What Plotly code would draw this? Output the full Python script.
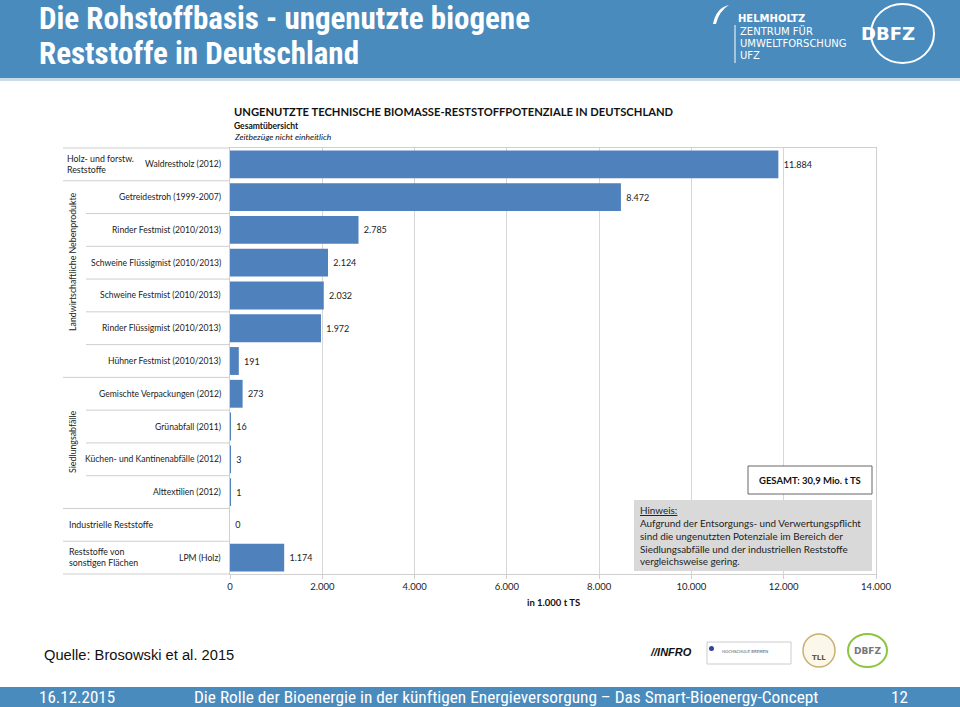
import plotly.graph_objects as go

# ---------------- data ----------------
categories = [
    "Waldrestholz (2012)",
    "Getreidestroh (1999-2007)",
    "Rinder Festmist (2010/2013)",
    "Schweine Flüssigmist (2010/2013)",
    "Schweine Festmist (2010/2013)",
    "Rinder Flüssigmist (2010/2013)",
    "Hühner Festmist (2010/2013)",
    "Gemischte Verpackungen (2012)",
    "Grünabfall (2011)",
    "Küchen- und Kantinenabfälle (2012)",
    "Alttextilien (2012)",
    "Industrielle Reststoffe",
    "LPM (Holz)",
]
row_labels = [
    "Waldrestholz (2012)",
    "Getreidestroh (1999-2007)",
    "Rinder Festmist (2010/2013)",
    "Schweine Flüssigmist (2010/2013)",
    "Schweine Festmist (2010/2013)",
    "Rinder Flüssigmist (2010/2013)",
    "Hühner Festmist (2010/2013)",
    "Gemischte Verpackungen (2012)",
    "Grünabfall (2011)",
    "Küchen- und Kantinenabfälle (2012)",
    "Alttextilien (2012)",
    "",
    "LPM (Holz)",
]
values = [11884, 8472, 2785, 2124, 2032, 1972, 191, 273, 16, 3, 1, 0, 1174]
x_ticks = [0, 2000, 4000, 6000, 8000, 10000, 12000, 14000]
# group boundaries (after row index) and inner separators
group_bounds = [0.5, 6.5, 10.5, 11.5]
inner_bounds = [1.5, 2.5, 3.5, 4.5, 5.5, 7.5, 8.5, 9.5]

# ---------------- layout constants ----------------
W, H = 960, 707
L, R, T, B = 230, 876, 148, 574
BLUE = "#4a8bbe"
BAR = "#4f81bd"
CF = "Lato, Carlito, 'Open Sans', sans-serif"
NF = "'Liberation Sans Narrow', 'Arial Narrow', 'Roboto Condensed', 'Liberation Sans', sans-serif"


def px(x):
    return (x - L) / (R - L)


def py(y):
    return (B - y) / (B - T)


fig = go.Figure()
fig.add_trace(go.Bar(
    y=categories, x=values, orientation="h",
    marker=dict(color=BAR, line=dict(width=0)),
    texttemplate=" %{x:,}", textposition="outside",
    textfont=dict(family=CF, size=9, color="#222"),
    cliponaxis=False, hoverinfo="skip",
))

shapes = []
annotations = []

# header band
shapes.append(dict(type="rect", xref="paper", yref="paper", x0=px(0), x1=px(W),
                   y0=py(78), y1=py(0), fillcolor=BLUE, line=dict(width=0), layer="below"))
shapes.append(dict(type="rect", xref="paper", yref="paper", x0=px(0), x1=px(W),
                   y0=py(81), y1=py(78), fillcolor="#c9dbe9", line=dict(width=0), layer="below"))
# footer band
shapes.append(dict(type="rect", xref="paper", yref="paper", x0=px(0), x1=px(W),
                   y0=py(H), y1=py(687), fillcolor=BLUE, line=dict(width=0), layer="below"))

annotations += [
    dict(text="<b>Die Rohstoffbasis - ungenutzte biogene</b>", x=px(37), y=py(19),
         font=dict(family=NF, size=31, color="white")),
    dict(text="<b>Reststoffe in Deutschland</b>", x=px(37), y=py(53),
         font=dict(family=NF, size=31, color="white")),
    # UFZ logo text
    dict(text="<b>HELMHOLTZ</b>", x=px(736), y=py(18), font=dict(family="DejaVu Sans", size=10, color="white")),
    dict(text="ZENTRUM FÜR", x=px(738), y=py(31), font=dict(family="DejaVu Sans", size=10, color="white")),
    dict(text="UMWELTFORSCHUNG", x=px(738), y=py(43), font=dict(family="DejaVu Sans", size=10, color="white")),
    dict(text="UFZ", x=px(738), y=py(55), font=dict(family="DejaVu Sans", size=10, color="white")),
    dict(text="<b>DBFZ</b>", x=px(859), y=py(33), font=dict(family="DejaVu Sans", size=18, color="white")),
    # footer
    dict(text="Quelle: Brosowski et al. 2015", x=px(42), y=py(655),
         font=dict(family="Liberation Sans", size=14.7, color="#111")),
    dict(text="16.12.2015", x=px(37), y=py(697), font=dict(family=NF, size=17, color="white")),
    dict(text="Die Rolle der Bioenergie in der künftigen Energieversorgung – Das Smart-Bioenergy-Concept",
         x=px(192), y=py(697), font=dict(family=NF, size=17.3, color="white")),
    dict(text="12", x=px(889), y=py(697), font=dict(family=NF, size=17, color="white")),
    # bottom logos
    dict(text="<b><i>//INFRO</i></b>", x=px(648), y=py(652), font=dict(family="Liberation Sans", size=11, color="#111")),
    dict(text="HOCHSCHULE BREMEN", x=px(720), y=py(651), font=dict(family="DejaVu Sans", size=4, color="#556")),
    dict(text="<b>TLL</b>", x=px(810), y=py(658), font=dict(family="DejaVu Sans", size=7, color="#6a5a2a")),
    dict(text="<b>DBFZ</b>", x=px(852), y=py(651), font=dict(family="DejaVu Sans", size=9, color="#777")),
    # chart titles
    dict(text="<b>UNGENUTZTE TECHNISCHE BIOMASSE-RESTSTOFFPOTENZIALE IN DEUTSCHLAND</b>",
         x=px(232), y=py(112), font=dict(family=CF, size=11.2, color="#111")),
    dict(text="<b>Gesamtübersicht</b>", x=px(232), y=py(126), font=dict(family=CF, size=8.5, color="#111")),
    dict(text="<i>Zeitbezüge nicht einheitlich</i>", x=px(232), y=py(137), font=dict(family=CF, size=8.5, color="#111")),
    # axis title
    dict(text="<b>in 1.000 t TS</b>", x=px(553), y=py(602), xanchor="center",
         font=dict(family=CF, size=9.5, color="#111")),
    # group labels (left)
    dict(text="Holz- und forstw.<br>Reststoffe", x=px(65), y=py(164), align="left",
         font=dict(family=CF, size=8.8, color="#222")),
    dict(text="Industrielle Reststoffe", x=px(67), y=py(524),
         font=dict(family=CF, size=8.8, color="#222")),
    dict(text="Reststoffe von<br>sonstigen Flächen", x=px(67), y=py(557), align="left",
         font=dict(family=CF, size=8.8, color="#222")),
    dict(text="Landwirtschaftliche Nebenprodukte", x=px(72), y=py(262), textangle=-90, xanchor="center",
         font=dict(family=CF, size=8.8, color="#222")),
    dict(text="Siedlungsabfälle", x=px(72), y=py(442), textangle=-90, xanchor="center",
         font=dict(family=CF, size=8.8, color="#222")),
    # GESAMT box
    dict(text="<b>GESAMT: 30,9 Mio. t TS</b>", x=px(810), y=py(480), xanchor="center",
         font=dict(family=CF, size=9.5, color="#111")),
    # Hinweis
    dict(text="<u>Hinweis:</u><br>Aufgrund der Entsorgungs- und Verwertungspflicht<br>"
              "sind die ungenutzten Potenziale im Bereich der<br>"
              "Siedlungsabfälle und der industriellen Reststoffe<br>vergleichsweise gering.",
         x=px(638), y=py(535), align="left", font=dict(family=CF, size=9.9, color="#222")),
]
for a in annotations:
    a.setdefault("xref", "paper")
    a.setdefault("yref", "paper")
    a.setdefault("xanchor", "left")
    a.setdefault("yanchor", "middle")
    a["showarrow"] = False

# right-aligned category labels
for lab, cat in zip(row_labels, categories):
    if lab:
        annotations.append(dict(text=lab, xref="paper", yref="y", x=0, y=cat, xanchor="right",
                                xshift=-7, yanchor="middle", showarrow=False,
                                font=dict(family=CF, size=8.6, color="#222")))

# logo shapes
shapes += [
    dict(type="line", xref="paper", yref="paper", x0=px(735), x1=px(735), y0=py(63), y1=py(25),
         line=dict(color="white", width=1)),
    dict(type="path", xref="paper", yref="paper",
         path=f"M {px(713)},{py(24)} Q {px(716)},{py(8)} {px(729)},{py(5)} "
              f"Q {px(719)},{py(11)} {px(716)},{py(24)} Z",
         line=dict(width=0), fillcolor="white"),
    dict(type="circle", xref="paper", yref="paper", x0=px(871), x1=px(934), y0=py(63), y1=py(4),
         line=dict(color="white", width=2)),
    dict(type="rect", xref="paper", yref="paper", x0=px(707), x1=px(791), y0=py(664), y1=py(642),
         line=dict(color="#ccc", width=1), fillcolor="white"),
    dict(type="circle", xref="paper", yref="paper", x0=px(709), x1=px(714), y0=py(651), y1=py(646),
         line=dict(width=0), fillcolor="#334499"),
    dict(type="circle", xref="paper", yref="paper", x0=px(803), x1=px(835), y0=py(667), y1=py(634),
         line=dict(color="#c8b070", width=1.5), fillcolor="#fbf7ea"),
    dict(type="circle", xref="paper", yref="paper", x0=px(848), x1=px(887), y0=py(667), y1=py(634),
         line=dict(color="#8cc63f", width=2)),
    # GESAMT box & Hinweis box
    dict(type="rect", xref="paper", yref="paper", x0=px(748), x1=px(872), y0=py(494), y1=py(466),
         line=dict(color="#666", width=1), fillcolor="white"),
    dict(type="rect", xref="paper", yref="paper", x0=px(634), x1=px(872), y0=py(571), y1=py(500),
         line=dict(width=0), fillcolor="#d9d9d9"),
]

# category separators
for yb in group_bounds:
    shapes.append(dict(type="line", xref="paper", yref="y", x0=px(63), x1=0, y0=yb, y1=yb,
                       line=dict(color="#cfcfcf", width=1)))
for yb in inner_bounds:
    shapes.append(dict(type="line", xref="paper", yref="y", x0=px(86), x1=0, y0=yb, y1=yb,
                       line=dict(color="#cfcfcf", width=1)))
shapes.append(dict(type="line", xref="paper", yref="paper", x0=px(63), x1=0, y0=0, y1=0,
                   line=dict(color="#cfcfcf", width=1)))
shapes.append(dict(type="line", xref="paper", yref="paper", x0=px(63), x1=0, y0=1, y1=1,
                   line=dict(color="#cfcfcf", width=1)))

fig.update_layout(
    width=W, height=H,
    margin=dict(l=L, r=W - R, t=T, b=H - B, pad=0),
    paper_bgcolor="white", plot_bgcolor="white",
    separators=",.",
    showlegend=False,
    bargap=0.15,
    shapes=shapes,
    annotations=annotations,
    xaxis=dict(range=[0, 14000], tickvals=x_ticks, tickformat=",d",
               showgrid=True, gridcolor="#d6d6d6", gridwidth=1,
               zeroline=False, showline=True, linecolor="#cfcfcf", mirror=True,
               ticks="outside", ticklen=4, tickcolor="#cfcfcf",
               tickfont=dict(family=CF, size=9.5, color="#222"), fixedrange=True),
    yaxis=dict(categoryorder="array", categoryarray=categories, range=[12.5, -0.5],
               showticklabels=False, showgrid=False, zeroline=False,
               showline=True, linecolor="#cfcfcf", mirror=True, fixedrange=True),
)

fig.write_html("out.html", config={"displayModeBar": False},
               post_script="document.body.style.margin='0';document.body.style.overflow='hidden';")
